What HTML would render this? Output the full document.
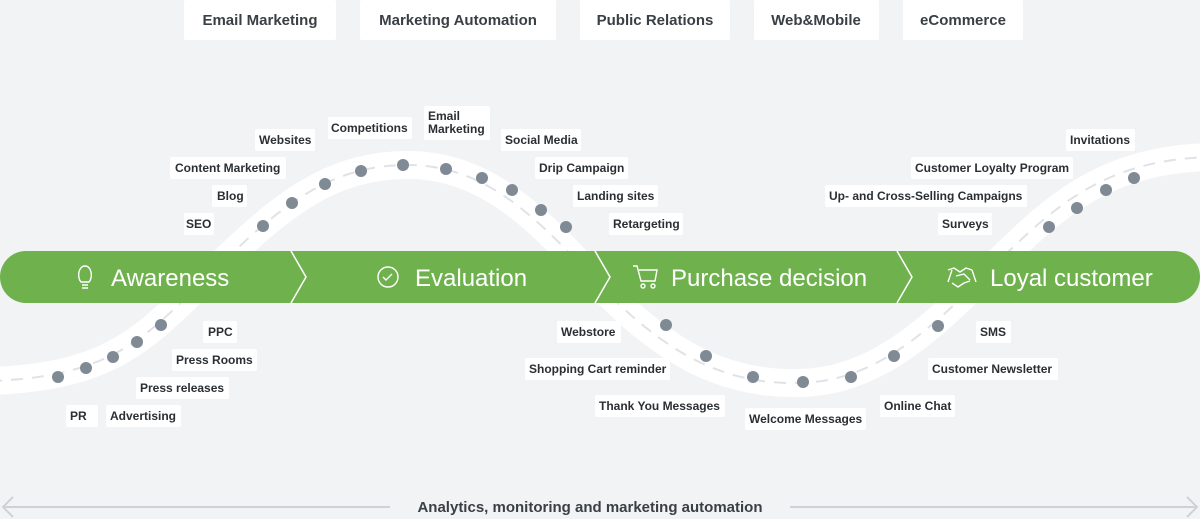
<!DOCTYPE html>
<html><head><meta charset="utf-8"><style>
html,body{margin:0;padding:0;background:#f2f3f5;width:1200px;height:519px;overflow:hidden}
svg{display:block}
text{font-family:"Liberation Sans",sans-serif}
.l{font-size:12px;font-weight:bold;fill:#2b2f33}
.t{font-size:15px;font-weight:bold;fill:#3a3f45}
.g{font-size:24px;fill:#fff}
</style></head><body>
<svg width="1200" height="519" viewBox="0 0 1200 519">
<rect width="1200" height="519" fill="#f2f3f5"/>
<g fill="#fff">
<rect x="184" y="0" width="152" height="40" rx="2"/>
<rect x="360" y="0" width="196" height="40" rx="2"/>
<rect x="580" y="0" width="150" height="40" rx="2"/>
<rect x="754" y="0" width="125" height="40" rx="2"/>
<rect x="903" y="0" width="120" height="40" rx="2"/>
</g>
<g class="t" text-anchor="middle">
<text class="t" x="260" y="25">Email Marketing</text>
<text class="t" x="458" y="25">Marketing Automation</text>
<text class="t" x="655" y="25">Public Relations</text>
<text class="t" x="816" y="25">Web&amp;Mobile</text>
<text class="t" x="963" y="25">eCommerce</text>
</g>
<path d="M-10,381 C120,377 150,330 210,275 C280,205 330,166 405,165 C480,164 530,210 590,275 C660,350 720,385 800,383 C870,381 920,340 985,275 C1050,210 1100,160 1210,157" fill="none" stroke="#fff" stroke-width="28"/>
<path d="M-10,381 C120,377 150,330 210,275 C280,205 330,166 405,165 C480,164 530,210 590,275 C660,350 720,385 800,383 C870,381 920,340 985,275 C1050,210 1100,160 1210,157" fill="none" stroke="#dfe3e8" stroke-width="2" stroke-dasharray="12 9"/>
<g fill="#808a94">
<circle cx="58" cy="377" r="6"/><circle cx="86" cy="368" r="6"/><circle cx="113" cy="357" r="6"/><circle cx="137" cy="342" r="6"/><circle cx="161" cy="325" r="6"/>
<circle cx="263" cy="226" r="6"/><circle cx="292" cy="203" r="6"/><circle cx="325" cy="184" r="6"/><circle cx="361" cy="171" r="6"/><circle cx="403" cy="165" r="6"/>
<circle cx="446" cy="169" r="6"/><circle cx="482" cy="178" r="6"/><circle cx="512" cy="190" r="6"/><circle cx="541" cy="210" r="6"/><circle cx="566" cy="227" r="6"/>
<circle cx="666" cy="325" r="6"/><circle cx="706" cy="356" r="6"/><circle cx="753" cy="377" r="6"/><circle cx="803" cy="382" r="6"/><circle cx="851" cy="377" r="6"/><circle cx="894" cy="356" r="6"/><circle cx="938" cy="326" r="6"/>
<circle cx="1049" cy="227" r="6"/><circle cx="1077" cy="208" r="6"/><circle cx="1106" cy="190" r="6"/><circle cx="1134" cy="178" r="6"/>
</g>
<rect x="0" y="251" width="1200" height="52" rx="26" fill="#6fb24d"/>
<g fill="none" stroke="#fff" stroke-width="1.5">
<path d="M291,251 L306,277 L291,303"/>
<path d="M595,251 L610,277 L595,303"/>
<path d="M897,251 L912,277 L897,303"/>
</g>
<text class="g" x="111" y="286">Awareness</text>
<text class="g" x="415" y="286">Evaluation</text>
<text class="g" x="671" y="286">Purchase decision</text>
<text class="g" x="990" y="286">Loyal customer</text>
<g fill="none" stroke="#fff" stroke-width="1.4">
<path d="M81,282 C77,278 78,266 85,266 C92,266 93,278 89,282 Z"/><path d="M82,285 h6 M82,288 h6"/>
<circle cx="388" cy="277" r="10"/><path d="M383,277 l3,3 l6,-6"/>
<path d="M633,266 h4 l4,15 h14 l2,-11 h-18"/><circle cx="643" cy="286" r="2"/><circle cx="653" cy="286" r="2"/>
<path d="M948,270 l6,-2 l6,4 l6,-4 l6,2 M948,282 l4,-12 M976,282 l-4,-12 M952,283 l6,4 l6,-4 l6,-2 M956,276 l8,-2 l6,6"/>
</g>
<g fill="#fff">
<rect x="184" y="213" width="30" height="22" rx="2"/><rect x="212" y="185" width="35" height="22" rx="2"/><rect x="170" y="157" width="116" height="22" rx="2"/>
<rect x="255" y="129" width="60" height="22" rx="2"/><rect x="328" y="117" width="84" height="22" rx="2"/><rect x="424" y="106" width="66" height="34" rx="2"/>
<rect x="501" y="129" width="80" height="22" rx="2"/><rect x="535" y="157" width="93" height="22" rx="2"/><rect x="573" y="185" width="85" height="22" rx="2"/><rect x="609" y="213" width="74" height="22" rx="2"/>
<rect x="203" y="321" width="34" height="22" rx="2"/><rect x="172" y="349" width="85" height="22" rx="2"/><rect x="136" y="377" width="93" height="22" rx="2"/>
<rect x="66" y="405" width="32" height="22" rx="2"/><rect x="106" y="405" width="75" height="22" rx="2"/>
<rect x="557" y="321" width="64" height="22" rx="2"/><rect x="525" y="358" width="145" height="22" rx="2"/><rect x="595" y="395" width="130" height="22" rx="2"/>
<rect x="745" y="408" width="121" height="22" rx="2"/><rect x="880" y="395" width="75" height="22" rx="2"/><rect x="928" y="358" width="130" height="22" rx="2"/><rect x="976" y="321" width="35" height="22" rx="2"/>
<rect x="1066" y="129" width="69" height="22" rx="2"/><rect x="911" y="157" width="162" height="22" rx="2"/><rect x="825" y="185" width="202" height="22" rx="2"/><rect x="938" y="213" width="54" height="22" rx="2"/>
</g>
<g class="l">
<text class="l" x="186" y="228">SEO</text><text class="l" x="217" y="200">Blog</text><text class="l" x="175" y="172">Content Marketing</text>
<text class="l" x="259" y="144">Websites</text><text class="l" x="331" y="132">Competitions</text>
<text class="l" x="428" y="120">Email</text><text class="l" x="428" y="133">Marketing</text>
<text class="l" x="505" y="144">Social Media</text><text class="l" x="539" y="172">Drip Campaign</text><text class="l" x="577" y="200">Landing sites</text><text class="l" x="613" y="228">Retargeting</text>
<text class="l" x="208" y="336">PPC</text><text class="l" x="176" y="364">Press Rooms</text><text class="l" x="140" y="392">Press releases</text>
<text class="l" x="70" y="420">PR</text><text class="l" x="110" y="420">Advertising</text>
<text class="l" x="561" y="336">Webstore</text><text class="l" x="529" y="373">Shopping Cart reminder</text><text class="l" x="599" y="410">Thank You Messages</text>
<text class="l" x="749" y="423">Welcome Messages</text><text class="l" x="884" y="410">Online Chat</text><text class="l" x="932" y="373">Customer Newsletter</text><text class="l" x="980" y="336">SMS</text>
<text class="l" x="1070" y="144">Invitations</text><text class="l" x="915" y="172">Customer Loyalty Program</text><text class="l" x="829" y="200">Up- and Cross-Selling Campaigns</text><text class="l" x="942" y="228">Surveys</text>
</g>
<g fill="none" stroke="#cdd2d8" stroke-width="2">
<path d="M3,507 H390 M790,507 H1197"/>
<path d="M13,497 L3,507 L13,517 M1187,497 L1197,507 L1187,517"/>
</g>
<text class="t" x="590" y="512" text-anchor="middle">Analytics, monitoring and marketing automation</text>
</svg>
</body></html>
